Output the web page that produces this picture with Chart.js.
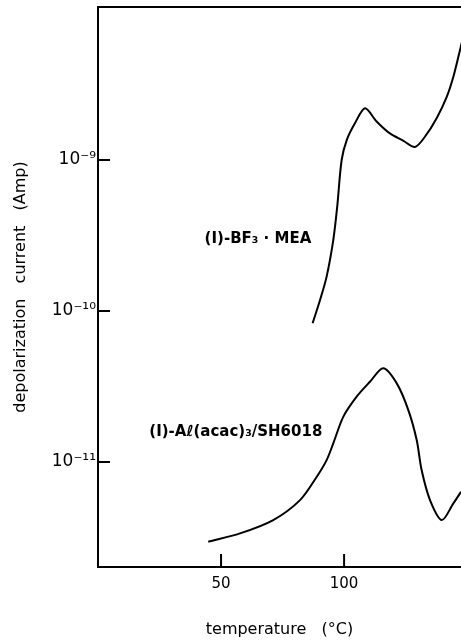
<!DOCTYPE html>
<html>
<head>
<meta charset="utf-8">
<script src="https://cdn.jsdelivr.net/npm/chart.js@4"></script>
<style>
  html, body { margin: 0; padding: 0; background: #fff; overflow: hidden; }
  #wrap { width: 461px; height: 641px; }
</style>
</head>
<body>
<div id="wrap"><canvas id="tsdcChart" width="461" height="641"></canvas></div>
<script>
// temperature (°C) and depolarization current (A)
const bf3Temp = [87.2, 90.2, 92.9, 95.6, 97.2, 99.0, 101.1, 104.4, 108.5, 113.2, 118.6, 124.1, 128.8, 132.9, 137.6, 141.7, 144.4, 147.1, 149.1];
const bf3Current = [8.3e-11, 1.18e-10, 1.69e-10, 2.95e-10, 4.91e-10, 1.0e-9, 1.36e-9, 1.75e-9, 2.20e-9, 1.80e-9, 1.50e-9, 1.34e-9, 1.22e-9, 1.43e-9, 1.89e-9, 2.62e-9, 3.56e-9, 5.35e-9, 7.26e-9];

const alTemp = [44.8, 57.7, 71.2, 82.1, 88.9, 92.9, 95.6, 99.7, 105.1, 110.5, 115.9, 121.4, 126.1, 129.5, 131.5, 134.9, 139.7, 144.4, 147.5, 149.5];
const alCurrent = [2.97e-12, 3.37e-12, 4.13e-12, 5.6e-12, 8.0e-12, 1.03e-11, 1.33e-11, 2.0e-11, 2.71e-11, 3.40e-11, 4.18e-11, 3.32e-11, 2.21e-11, 1.40e-11, 8.85e-12, 5.6e-12, 4.13e-12, 5.33e-12, 6.35e-12, 7.05e-12];

const seriesNames = ['(I)-BF\u2083 \u00b7 MEA', '(I)-A\u2113(acac)\u2083/SH6018'];
const labelTemp = [65, 56];
const labelCurrent = [3.0e-10, 1.58e-11];

const xTicks = [50, 100];
const yTicks = [1e-11, 1e-10, 1e-9];
const yTickLabels = ['10\u207b\u00b9\u00b9', '10\u207b\u00b9\u2070', '10\u207b\u2079'];

const FONT = 'DejaVu Sans';

function toPoints(xs, ys) {
    return xs.map((x, i) => ({ x: x, y: ys[i] }));
}

// top frame line, inward tick marks and curve captions
const framePlugin = {
    id: 'frame',
    afterDraw(chart) {
        const c = chart.ctx;
        const area = chart.chartArea;
        const xs = chart.scales.x;
        const ys = chart.scales.y;
        c.save();
        c.strokeStyle = '#000';
        c.lineWidth = 2;
        c.beginPath();
        c.moveTo(area.left - 1, area.top);
        c.lineTo(area.right, area.top);
        xTicks.forEach(v => {
            const px = xs.getPixelForValue(v);
            c.moveTo(px, area.bottom);
            c.lineTo(px, area.bottom - 13);
        });
        yTicks.forEach(v => {
            const py = ys.getPixelForValue(v);
            c.moveTo(area.left, py);
            c.lineTo(area.left + 12, py);
        });
        c.stroke();

        c.fillStyle = '#000';
        c.font = 'bold 15px "' + FONT + '"';
        c.textAlign = 'center';
        c.textBaseline = 'middle';
        seriesNames.forEach((name, i) => {
            c.fillText(name, xs.getPixelForValue(labelTemp[i]), ys.getPixelForValue(labelCurrent[i]));
        });
        c.restore();
    }
};

const lineStyle = {
    borderColor: '#000',
    borderWidth: 2,
    pointRadius: 0,
    tension: 0.3,
    fill: false
};

new Chart(document.getElementById('tsdcChart'), {
    type: 'line',
    data: {
        datasets: [
            Object.assign({ label: seriesNames[0], data: toPoints(bf3Temp, bf3Current) }, lineStyle),
            Object.assign({ label: seriesNames[1], data: toPoints(alTemp, alCurrent) }, lineStyle)
        ]
    },
    options: {
        responsive: false,
        animation: false,
        layout: {
            padding: { top: 7, right: 0, bottom: 0, left: 0 }
        },
        plugins: {
            legend: { display: false },
            tooltip: { enabled: false }
        },
        scales: {
            x: {
                type: 'linear',
                min: 0,
                max: 147.5,
                afterBuildTicks: s => { s.ticks = xTicks.map(v => ({ value: v })); },
                afterFit: s => { s.height = 74; s.paddingLeft = 0; s.paddingRight = 0; },
                grid: { display: false, drawTicks: false },
                border: { display: true, color: '#000', width: 2 },
                ticks: {
                    color: '#000',
                    padding: 8,
                    font: { family: FONT, size: 15 }
                },
                title: {
                    display: true,
                    text: 'temperature   (\u00b0C)',
                    color: '#000',
                    padding: { top: 0, bottom: 2 },
                    font: { family: FONT, size: 16 }
                }
            },
            y: {
                type: 'logarithmic',
                min: 2.02e-12,
                max: 1.03e-8,
                afterBuildTicks: s => { s.ticks = yTicks.map(v => ({ value: v })); },
                afterFit: s => { s.width = 98; s.paddingTop = 0; s.paddingBottom = 0; },
                grid: { display: false, drawTicks: false },
                border: { display: true, color: '#000', width: 2 },
                ticks: {
                    color: '#000',
                    padding: 2,
                    font: { family: FONT, size: 17 },
                    callback: v => {
                        const i = yTicks.findIndex(t => Math.abs(t - v) / t < 1e-6);
                        return i >= 0 ? yTickLabels[i] : '';
                    }
                },
                title: {
                    display: true,
                    text: 'depolarization   current   (Amp)',
                    color: '#000',
                    padding: { top: 11, bottom: 0 },
                    font: { family: FONT, size: 16 }
                }
            }
        }
    },
    plugins: [framePlugin]
});
</script>
</body>
</html>
